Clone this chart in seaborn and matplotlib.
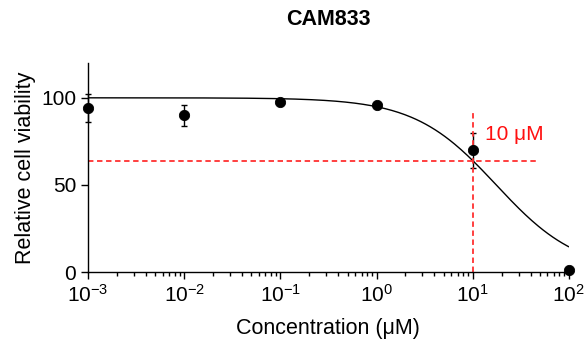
import numpy as np
import pandas as pd
import seaborn as sns
import matplotlib.pyplot as plt

conc = [0.001, 0.01, 0.1, 1, 10, 100]
viability = [94, 90, 97.5, 96, 70, 1]
err = [8, 6, 1, 1, 10, 0.5]

# fitted 4PL curve parameters
top, bottom, ic50, hill = 100, 0, 17.6, 1.02
marker_conc = 10
marker_val = 64

sns.set_style('ticks')
plt.rcParams['font.family'] = ['Liberation Sans', 'DejaVu Sans']
plt.rcParams['text.color'] = 'black'
plt.rcParams['axes.labelcolor'] = 'black'
plt.rcParams['xtick.color'] = 'black'
plt.rcParams['ytick.color'] = 'black'
plt.rcParams['axes.edgecolor'] = 'black'
plt.rcParams['mathtext.fontset'] = 'custom'
plt.rcParams['mathtext.rm'] = 'Liberation Sans'
plt.rcParams['mathtext.it'] = 'Liberation Sans'
plt.rcParams['mathtext.default'] = 'regular'

df = pd.DataFrame({'conc': conc, 'viability': viability, 'err': err})
xs = np.logspace(-3, 2, 300)
fit = pd.DataFrame({'conc': xs, 'viability': bottom + (top - bottom) / (1 + (xs / ic50) ** hill)})

fig, ax = plt.subplots(figsize=(5.87, 3.44), dpi=100)
fig.subplots_adjust(left=0.15, right=0.969, bottom=0.209, top=0.817)

sns.lineplot(data=fit, x='conc', y='viability', color='black', lw=1, ax=ax)
ax.errorbar(df['conc'], df['viability'], yerr=df['err'], fmt='none', ecolor='black',
            elinewidth=1, capsize=2, clip_on=False)
sns.scatterplot(data=df, x='conc', y='viability', color='black', s=55, edgecolor='black',
                zorder=5, clip_on=False, ax=ax)

red = '#ff3030'
ax.plot([1e-3, 47], [marker_val, marker_val], color=red, ls='--', lw=1.3, dashes=(3, 2))
ax.plot([marker_conc, marker_conc], [0, 92], color=red, ls='--', lw=1.3, dashes=(3, 2))
ax.text(13.5, 76, '10 μM', color='#ff1010', fontsize=15)

ax.set_xscale('log')
ax.set_xlim(1e-3, 1e2)
ax.set_ylim(0, 120)
ax.set_yticks([0, 50, 100])
ax.set_xticks([1e-3, 1e-2, 1e-1, 1, 10, 100])
ax.set_xticklabels(['$10^{-3}$', '$10^{-2}$', '$10^{-1}$', '$10^{0}$', '$10^{1}$', '$10^{2}$'])
ax.tick_params(axis='both', labelsize=15, width=1, length=5)
ax.tick_params(axis='x', which='minor', length=3, width=1)

ax.set_xlabel('Concentration (μM)', fontsize=15.5, labelpad=9)
ax.set_ylabel('Relative cell viability', fontsize=15.5, labelpad=4)
ax.set_title('CAM833', fontsize=15.5, fontweight='bold', pad=27)
for s in ax.spines.values():
    s.set_linewidth(1)
sns.despine(ax=ax)

fig.savefig('out.png', dpi=100)
